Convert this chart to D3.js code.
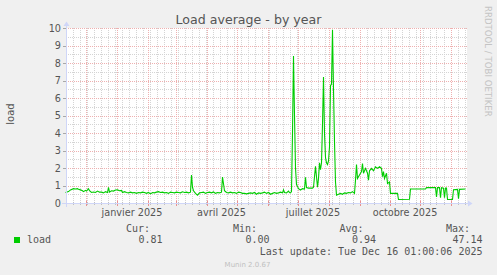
<!DOCTYPE html>
<html><head><meta charset="utf-8">
<script src="https://cdn.jsdelivr.net/npm/d3@7"></script>
<style>html,body{margin:0;padding:0;background:#f0f0f0;overflow:hidden}</style>
</head><body>
<svg id="c" width="497" height="275"></svg>
<script>
const chartTitle = "Load average - by year";
const yAxisLabel = "load";
const watermark = "RRDTOOL / TOBI OETIKER";
const versionText = "Munin 2.0.67";
const yTicks = [0,1,2,3,4,5,6,7,8,9,10];
const xLabelMonths = ["2025-01-01","2025-04-01","2025-07-01","2025-10-01"];
const xTickLabels = ["janvier 2025","avril 2025","juillet 2025","octobre 2025"];
const rangeStart = "2024-11-11";
const rangeEnd = "2025-12-16";
// days since rangeStart
const dayOffsets = [0,3,5,8,10,12,13,15,17,18,20,21,23,24,26,28,30,32,34,36,38,40,42,43,44,46,48,50,52,54,56,57,59,61,63,65,67,69,71,73,75,77,79,81,83,85,87,89,91,93,95,97,99,101,103,105,107,109,111,113,115,117,119,121,123,125,
126,127,128,130,132,134,136,138,140,142,144,146,148,150,152,154,156,157,158,159,161,163,165,167,169,171,173,175,177,179,181,183,185,187,189,191,193,195,197,199,201,203,205,207,209,211,213,215,217,218,219,221,223,224,225,226,
227,228,229,230,231,232,233,235,237,239,240,241,243,245,247,248,250,252,253,254,255,256,257,258,259,260,261,262,263,264,265,266,267,268,269,270,271,273,275,277,279,281,283,285,287,289,
290,291,292,294,296,297,298,300,302,303,304,306,308,310,312,314,316,317,318,319,321,322,324,325,332,333,344,345,360,361,370,371,372,374,375,376,378,379,380,381,382,387,388,392,393,394,400];
const loadValues = [0.6,0.65,0.75,0.82,0.8,0.82,0.78,0.75,0.7,0.65,0.72,0.68,0.82,0.7,0.6,0.63,0.6,0.68,0.62,0.62,0.58,0.65,0.6,0.9,0.62,0.7,0.68,0.74,0.75,0.7,0.72,0.6,0.65,0.6,0.58,0.62,0.58,0.6,0.55,0.6,0.58,0.62,0.6,0.55,0.6,0.52,0.6,0.58,0.62,0.65,0.6,0.62,0.58,0.6,0.55,0.62,0.6,0.58,0.62,0.6,0.58,0.64,0.6,0.62,0.58,0.62,
1.6,0.9,0.7,0.55,0.45,0.58,0.6,0.62,0.55,0.6,0.62,0.58,0.63,0.55,0.6,0.58,0.62,1.48,1.1,0.7,0.6,0.58,0.62,0.58,0.6,0.55,0.62,0.6,0.55,0.55,0.52,0.55,0.58,0.55,0.6,0.5,0.58,0.55,0.58,0.62,0.55,0.6,0.5,0.55,0.6,0.55,0.58,0.62,0.58,0.75,0.6,0.58,0.68,0.6,0.58,0.65,
4.0,8.4,5.0,2.0,1.05,0.95,0.82,0.74,0.82,0.8,1.47,0.88,0.85,0.86,0.85,0.9,2.1,0.9,1.4,2.3,1.9,2.3,4.5,7.2,4.0,2.6,2.3,2.2,2.4,3.2,6.7,6.8,9.9,6.5,3.5,1.2,0.45,0.5,0.55,0.5,0.58,0.55,0.6,0.58,0.65,0.55,
1.3,2.2,1.4,1.6,1.8,2.25,1.7,1.98,1.7,1.3,1.84,1.98,1.84,2.07,1.98,2.07,1.98,1.5,1.79,1.4,1.7,1.12,1.2,0.55,0.55,0.2,0.21,0.8,0.8,0.88,0.88,0.35,0.88,0.88,0.3,0.88,0.85,0.3,0.85,0.85,0.2,0.2,0.76,0.78,0.25,0.78,0.8];
const legendName = "load";
const legendHeaders = ["Cur:","Min:","Avg:","Max:"];
const legendValues = ["0.81","0.00","0.94","47.14"];
const lastUpdate = "Last update: Tue Dec 16 01:00:06 2025";

const svg = d3.select("#c");
const W = 497, H = 275;
const pLeft = 66, pRight = 467, pTop = 28, pBottom = 203;
const t0 = d3.utcParse("%Y-%m-%d")(rangeStart), t1 = d3.utcParse("%Y-%m-%d")(rangeEnd);
const x = d3.scaleUtc().domain([t0, t1]).range([65.5, 465.5]);
const y = d3.scaleLinear().domain([0, 10]).range([pBottom, pTop]);
const px = v => Math.round(v) + 0.5;
const textCol = "#555";
const mono = "'DejaVu Sans Mono', monospace";
const sans = "'DejaVu Sans', sans-serif";
const minorCol = "#d4d4d4", majorCol = "#eeb0b0";

svg.append("rect").attr("width", W).attr("height", H).attr("fill", "#f0f0f0");
svg.append("rect").attr("x", pLeft).attr("y", pTop).attr("width", pRight - pLeft).attr("height", pBottom - pTop).attr("fill", "#fff");

const grid = svg.append("g").attr("shape-rendering", "crispEdges").attr("stroke-width", 1).attr("stroke-dasharray", "1,1");
const minorY = d3.range(0.5, 10, 1);
grid.selectAll(".hy").data(minorY).join("line")
  .attr("x1", pLeft).attr("x2", pRight).attr("y1", d => px(y(d))).attr("y2", d => px(y(d)))
  .attr("stroke", minorCol);
const months = d3.utcMonth.range(d3.utcMonth.ceil(t0), t1);
const weeks = d3.utcMonday.range(d3.utcDay.offset(t0, 1), t1).filter(d => {
  const xm = Math.round(x(d));
  return !months.some(m => Math.abs(Math.round(x(m)) - xm) < 1);
});
grid.selectAll(".wv").data(weeks).join("line")
  .attr("x1", d => px(x(d))).attr("x2", d => px(x(d))).attr("y1", pTop).attr("y2", pBottom)
  .attr("stroke", minorCol);
grid.selectAll(".my").data(yTicks.filter(d => d > 0)).join("line")
  .attr("x1", pLeft).attr("x2", pRight).attr("y1", d => px(y(d))).attr("y2", d => px(y(d)))
  .attr("stroke", majorCol);
grid.selectAll(".mv").data(months).join("line")
  .attr("x1", d => px(x(d))).attr("x2", d => px(x(d))).attr("y1", pTop).attr("y2", pBottom)
  .attr("stroke", majorCol);

const ticks = svg.append("g").attr("shape-rendering", "crispEdges");
ticks.selectAll(".tw").data(weeks).join("line")
  .attr("x1", d => px(x(d))).attr("x2", d => px(x(d))).attr("y1", 202).attr("y2", 205).attr("stroke", "#c0c0c0");
ticks.selectAll(".tm").data(months).join("line")
  .attr("x1", d => px(x(d))).attr("x2", d => px(x(d))).attr("y1", 201).attr("y2", 206).attr("stroke", "#e89090");
ticks.selectAll(".ty").data(yTicks).join("line")
  .attr("x1", 63).attr("x2", 66).attr("y1", d => px(y(d))).attr("y2", d => px(y(d))).attr("stroke", "#a8a8a8");

const line = d3.line().x(d => x(d3.utcDay.offset(t0, d))).y((d, i) => y(loadValues[i]));
svg.append("path").datum(dayOffsets).attr("d", line).attr("fill", "none")
  .attr("stroke", "#00cc00").attr("stroke-width", 1.1);

const axisCol = "#cfd6f8";
svg.append("line").attr("x1", 62).attr("x2", 469).attr("y1", 203.5).attr("y2", 203.5).attr("stroke", axisCol);
svg.append("line").attr("x1", 66.5).attr("x2", 66.5).attr("y1", 207).attr("y2", 24).attr("stroke", axisCol);
svg.append("path").attr("d", "M472.5,203.5 L468,200.5 L468,206.5 Z").attr("fill", axisCol);
svg.append("path").attr("d", "M66.5,21.5 L63.5,26 L69.5,26 Z").attr("fill", axisCol);

svg.selectAll(".yl").data(yTicks).join("text")
  .attr("x", 61).attr("y", d => y(d) + 3.5).attr("text-anchor", "end")
  .attr("font-family", sans).attr("font-size", 9.7).attr("fill", textCol).text(d => d);

const lm = xLabelMonths.map(s => d3.utcParse("%Y-%m-%d")(s));
svg.selectAll(".xl").data(lm).join("text")
  .attr("x", d => (x(d) + x(d3.utcMonth.offset(d, 1))) / 2)
  .attr("y", 216).attr("text-anchor", "middle")
  .attr("font-family", sans).attr("font-size", 9.7).attr("fill", textCol)
  .text((d, i) => xTickLabels[i]);

svg.append("text").attr("x", 248.5).attr("y", 24).attr("text-anchor", "middle")
  .attr("font-family", sans).attr("font-size", 12.6).attr("fill", textCol).text(chartTitle);

svg.append("text").attr("transform", "translate(14,114) rotate(-90)").attr("text-anchor", "middle")
  .attr("font-family", sans).attr("font-size", 10).attr("fill", textCol).text(yAxisLabel);

svg.append("text").attr("transform", "translate(485,6) rotate(90)").attr("text-anchor", "start")
  .attr("font-family", sans).attr("font-size", 8.6).attr("fill", "#c4c4c4").text(watermark);

svg.append("rect").attr("x", 14).attr("y", 237).attr("width", 6).attr("height", 6).attr("fill", "#00cc00");
svg.append("text").attr("x", 27).attr("y", 243).attr("font-family", mono).attr("font-size", 10).attr("fill", textCol).text(legendName);
const headerEnds = [150, 257, 363.5, 470];
const valueEnds = [162.5, 269.5, 376, 482.5];
svg.selectAll(".lh").data(legendHeaders).join("text")
  .attr("x", (d, i) => headerEnds[i]).attr("y", 231.5).attr("text-anchor", "end")
  .attr("font-family", mono).attr("font-size", 10).attr("fill", textCol).text(d => d);
svg.selectAll(".lv").data(legendValues).join("text")
  .attr("x", (d, i) => valueEnds[i]).attr("y", 243).attr("text-anchor", "end")
  .attr("font-family", mono).attr("font-size", 10).attr("fill", textCol).text(d => d);
svg.append("text").attr("x", 482.5).attr("y", 255).attr("text-anchor", "end")
  .attr("font-family", mono).attr("font-size", 10).attr("fill", textCol).text(lastUpdate);
svg.append("text").attr("x", 247.5).attr("y", 266.5).attr("text-anchor", "middle")
  .attr("font-family", sans).attr("font-size", 7).attr("fill", "#c0c0c0").text(versionText);
</script>
</body></html>
